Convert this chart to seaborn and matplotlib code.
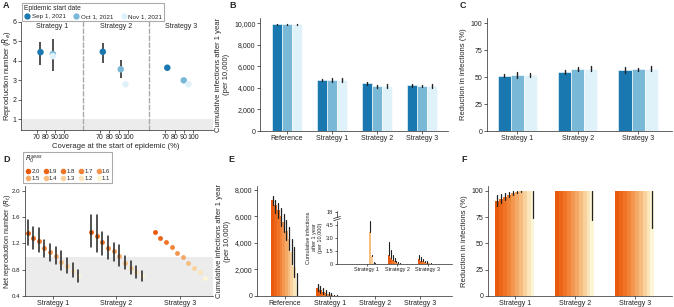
import numpy as np
import pandas as pd
import matplotlib
matplotlib.use('Agg')
import matplotlib.pyplot as plt
from matplotlib.lines import Line2D
import seaborn as sns

sns.set_style('ticks')
plt.rcParams['font.family'] = ['Liberation Sans', 'DejaVu Sans']
plt.rcParams['axes.linewidth'] = 0.5
plt.rcParams['xtick.major.width'] = 0.5
plt.rcParams['ytick.major.width'] = 0.5
plt.rcParams['xtick.major.size'] = 2
plt.rcParams['ytick.major.size'] = 2
plt.rcParams['xtick.major.pad'] = 1
plt.rcParams['ytick.major.pad'] = 1.2

# ---- data ----
strategies = ['Strategy 1', 'Strategy 2', 'Strategy 3']
dates = ['Sep 1, 2021', 'Oct 1, 2021', 'Nov 1, 2021']

# panel A: reproduction number by coverage at epidemic start
a_strategy = ['Strategy 1'] * 3 + ['Strategy 2'] * 3 + ['Strategy 3'] * 3
a_date = dates * 3
a_cov = [74, 88, 88, 73, 92, 97, 72, 90, 95]
a_re = [4.45, 4.35, 4.25, 4.47, 3.57, 2.80, 3.65, 3.00, 2.80]
a_lo = [3.80, 3.50, 4.25, 3.90, 3.10, 2.80, 3.65, 3.00, 2.80]
a_hi = [4.95, 5.15, 4.25, 4.90, 4.05, 2.80, 3.65, 3.00, 2.80]

# panel B: cumulative infections per 10,000
b_groups = ['Reference', 'Strategy 1', 'Strategy 2', 'Strategy 3']
b_val = [9900, 9900, 9900, 4750, 4720, 4760, 4420, 4150, 4170, 4230, 4170, 4200]
b_err = [80, 60, 60, 120, 200, 180, 150, 120, 170, 150, 80, 170]

# panel C: reduction in infections (%)
c_val = [51.5, 52.0, 52.2, 55.0, 57.8, 58.0, 56.5, 57.2, 58.0]
c_err = [1.5, 2.5, 2.0, 2.0, 2.0, 2.0, 3.0, 1.5, 2.2]

# panel D: net reproduction number by seasonal R0
r0_levels = ['2.0', '1.9', '1.8', '1.7', '1.6', '1.5', '1.4', '1.3', '1.2', '1.1']
d_val = {
    'Strategy 1': [1.36, 1.28, 1.23, 1.13, 1.07, 1.01, 0.92, 0.85, 0.78, 0.70],
    'Strategy 2': [1.38, 1.31, 1.22, 1.13, 1.08, 1.01, 0.91, 0.83, 0.76, 0.70],
    'Strategy 3': [1.37, 1.29, 1.22, 1.14, 1.06, 0.99, 0.91, 0.83, 0.76, 0.68],
}
d_lo = {
    'Strategy 1': [1.17, 1.12, 1.07, 1.00, 0.93, 0.88, 0.80, 0.75, 0.69, 0.62],
    'Strategy 2': [1.15, 1.07, 1.03, 0.97, 0.94, 0.86, 0.81, 0.74, 0.68, 0.63],
    'Strategy 3': [1.37, 1.29, 1.22, 1.14, 1.06, 0.99, 0.91, 0.83, 0.76, 0.68],
}
d_hi = {
    'Strategy 1': [1.55, 1.45, 1.43, 1.26, 1.19, 1.15, 1.08, 0.98, 0.91, 0.79],
    'Strategy 2': [1.63, 1.64, 1.38, 1.31, 1.21, 1.17, 1.01, 0.94, 0.86, 0.78],
    'Strategy 3': [1.37, 1.29, 1.22, 1.14, 1.06, 0.99, 0.91, 0.83, 0.76, 0.68],
}

# panel E: cumulative infections by seasonal R0
e_val = {
    'Reference': [7210, 6885, 6465, 6070, 5575, 4900, 4285, 3295, 2180, 1065],
    'Strategy 1': [620, 445, 320, 200, 120, 75, 30, 10, 3, 1],
    'Strategy 2': [1.0, 0.7, 0.5, 0.35, 0.2, 0.1, 0.05, 0.02, 0.01, 0.0],
    'Strategy 3': [0.55, 0.4, 0.3, 0.2, 0.12, 0.06, 0.03, 0.01, 0.0, 0.0],
}
e_lo = {
    'Reference': [6880, 6300, 5900, 5300, 4800, 4200, 3500, 2400, 1400, 0],
    'Strategy 1': [400, 250, 150, 80, 40, 15, 5, 1, 0, 0],
    'Strategy 2': [0, 0, 0, 0, 0, 0, 0, 0, 0, 0],
    'Strategy 3': [0, 0, 0, 0, 0, 0, 0, 0, 0, 0],
}
e_hi = {
    'Reference': [7550, 7250, 7000, 6650, 6200, 5700, 5200, 4300, 3700, 1700],
    'Strategy 1': [940, 750, 600, 450, 300, 200, 100, 40, 10, 3],
    'Strategy 2': [2.5, 1.6, 1.0, 0.7, 0.4, 0.2, 0.1, 0.05, 0.02, 0.01],
    'Strategy 3': [1.05, 0.75, 0.55, 0.4, 0.3, 0.15, 0.08, 0.03, 0.01, 0.0],
}
# inset of E (zoomed strategies)
ins_val = {
    'Strategy 1': [np.nan] * 6 + [3.7, 0.9, 0.15, 0.05],
    'Strategy 2': e_val['Strategy 2'],
    'Strategy 3': e_val['Strategy 3'],
}
ins_hi = {
    'Strategy 1': [np.nan] * 6 + [4.9, 1.0, 0.25, 0.1],
    'Strategy 2': e_hi['Strategy 2'],
    'Strategy 3': e_hi['Strategy 3'],
}

# panel F: reduction in infections by seasonal R0
f_val = {
    'Strategy 1': [90.5, 92.5, 94.5, 96.5, 98, 99, 99.7, 99.9, 100, 100],
    'Strategy 2': [100] * 10,
    'Strategy 3': [100] * 10,
}
f_lo = {
    'Strategy 1': [86, 88.5, 91, 94, 96, 98, 99.4, 99.8, 100, 74],
    'Strategy 2': [100] * 9 + [72],
    'Strategy 3': [100] * 9 + [65],
}
f_hi = {
    'Strategy 1': [96, 97, 98, 99, 99.8, 100, 100, 100, 100, 100],
    'Strategy 2': [100] * 10,
    'Strategy 3': [100] * 10,
}

blue_pal = ['#1a78b0', '#7ab8d8', '#dff2fa']
orange_pal = ['#e8590c', '#ec6518', '#ef7426', '#f18438', '#f3964f',
              '#f5a966', '#f7bd80', '#f9d19c', '#fbe5ba', '#fdf6d6']
band = '#ececec'
errc = '#222222'


def triple(df, val, lo, hi):
    # three rows per bar so median = value and full range = interval
    return pd.concat([df.assign(v=df[lo]), df.assign(v=df[val]), df.assign(v=df[hi])],
                     ignore_index=True)


def long_r0(val, lo, hi):
    rows = []
    for g in val:
        for i, r in enumerate(r0_levels):
            rows.append({'group': g, 'r0': r, 'val': val[g][i],
                         'lo': lo[g][i], 'hi': hi[g][i]})
    return triple(pd.DataFrame(rows), 'val', 'lo', 'hi')


W, H = 674, 307
fig = plt.figure(figsize=(W / 100, H / 100), dpi=100)


def box(l, t, r, b):
    return [l / W, 1 - b / H, (r - l) / W, (b - t) / H]


def style(ax, fs=5):
    sns.despine(ax=ax)
    ax.tick_params(labelsize=fs, colors='#222222')
    ax.set_xlabel('')
    ax.set_ylabel('')


lbl = 5.5

# ---- A ----
a_df = pd.DataFrame({'strategy': a_strategy, 'date': a_date, 'cov': a_cov,
                     're': a_re, 'lo': a_lo, 'hi': a_hi})
edges = [21, 83, 149, 213]
for i, s in enumerate(strategies):
    ax = fig.add_axes(box(edges[i], 22, edges[i + 1], 130))
    sub = a_df[a_df.strategy == s]
    ax.axhspan(0, 1, color=band, lw=0, zorder=0)
    ax.vlines(sub['cov'], sub['lo'], sub['hi'], color='#333333', lw=1.2, zorder=2)
    sns.scatterplot(data=sub, x='cov', y='re', hue='date', hue_order=dates,
                    palette=blue_pal, s=22, edgecolor='none', legend=False,
                    ax=ax, zorder=3)
    ax.set_xlim(52, 122)
    ax.set_ylim(0.45, 6)
    ax.set_xticks([70, 80, 90, 100])
    style(ax)
    ax.tick_params(axis='x', labelsize=5, pad=1)
    if i == 0:
        ax.set_yticks([1, 2, 3, 4, 5, 6])
        ax.set_ylabel('Reproduction number ($R_e$)', fontsize=lbl)
        ax.yaxis.set_label_coords(-8 / 62, 0.5)
    else:
        ax.tick_params(left=False, labelleft=False)
        ax.spines['left'].set_linestyle((0, (3, 2)))
        ax.spines['left'].set_color('#aaaaaa')
        ax.spines['left'].set_linewidth(1.0)
    if i == 1:
        ax.set_xlabel('Coverage at the start of epidemic (%)', fontsize=lbl, labelpad=1)
    ax.text(0.5, 0.96, s, transform=ax.transAxes, ha='center', va='center', fontsize=5)

a_handles = [Line2D([], [], marker='o', ls='none', color=c, markersize=3.5) for c in blue_pal]
lgA = fig.legend(a_handles, dates, title='Epidemic start date', ncol=3,
                 loc='upper left', bbox_to_anchor=(19 / W, 1.0), fontsize=4.5,
                 title_fontsize=4.8, alignment='left', fancybox=False,
                 edgecolor='#aaaaaa', framealpha=1, handletextpad=0.2,
                 columnspacing=1.2, borderpad=0.35, handlelength=1.0,
                 labelspacing=0.2)
lgA.get_frame().set_linewidth(0.8)

# ---- B ----
b_df = pd.DataFrame({'group': np.repeat(b_groups, 3), 'date': dates * 4,
                     'val': b_val, 'err': b_err})
b_df['lo'] = b_df['val'] - b_df['err']
b_df['hi'] = b_df['val'] + b_df['err']
ax = fig.add_axes(box(260, 18, 448, 131))
sns.barplot(data=triple(b_df, 'val', 'lo', 'hi'), x='group', y='v', hue='date',
            order=b_groups, hue_order=dates, palette=blue_pal, estimator='median',
            errorbar=('pi', 100), err_kws={'color': errc, 'linewidth': 1.0},
            width=0.67, edgecolor='white', linewidth=0.4, saturation=1,
            legend=False, ax=ax)
ax.set_xlim(-0.6, 3.58)
ax.set_ylim(0, 10500)
ax.set_yticks([0, 2000, 4000, 6000, 8000, 10000])
ax.set_yticklabels([f'{t:,}' for t in [0, 2000, 4000, 6000, 8000, 10000]])
style(ax)
ax.set_ylabel('Cumulative infections after 1 year\n(per 10,000)', fontsize=lbl, labelpad=3)

# ---- C ----
c_df = pd.DataFrame({'group': np.repeat(strategies, 3), 'date': dates * 3,
                     'val': c_val, 'err': c_err})
c_df['lo'] = c_df['val'] - c_df['err']
c_df['hi'] = c_df['val'] + c_df['err']
ax = fig.add_axes(box(487, 18, 672, 131))
sns.barplot(data=triple(c_df, 'val', 'lo', 'hi'), x='group', y='v', hue='date',
            order=strategies, hue_order=dates, palette=blue_pal, estimator='median',
            errorbar=('pi', 100), err_kws={'color': errc, 'linewidth': 1.0},
            width=0.65, edgecolor='white', linewidth=0.4, saturation=1,
            legend=False, ax=ax)
ax.set_xlim(-0.5, 2.56)
ax.set_ylim(0, 105)
ax.set_yticks([0, 25, 50, 75, 100])
style(ax)
ax.set_ylabel('Reduction in infections (%)', fontsize=lbl, labelpad=3)

bottom = 296

# ---- D ----
ax = fig.add_axes(box(25, 186, 213, bottom))
ax.axhspan(0.4, 1.0, color=band, lw=0, zorder=0)
sns.pointplot(data=long_r0(d_val, d_lo, d_hi), x='group', y='v', hue='r0',
              order=strategies, hue_order=r0_levels, palette=orange_pal,
              estimator='median', errorbar=('pi', 100), dodge=0.8,
              linestyle='none', markers='o', markersize=3.5, markeredgewidth=0,
              err_kws={'color': errc, 'linewidth': 1.1}, legend=False, ax=ax)
ax.set_xlim(-0.44, 2.52)
ax.set_ylim(0.4, 2.075)
ax.set_yticks([0.4, 0.8, 1.2, 1.6, 2.0])
ax.set_yticklabels(['0.4', '0.8', '1.2', '1.6', '2.0'])
style(ax, fs=4.4)
ax.tick_params(axis='x', labelsize=5)
ax.set_ylabel('Net reproduction number ($R_t$)', fontsize=5.2)
ax.yaxis.set_label_coords(-12 / 188, 0.5)

# legend rows: 2.0..1.6 on top, 1.5..1.1 below (matplotlib fills by column)
order_idx = [j for k in range(5) for j in (k, k + 5)]
d_handles = [Line2D([], [], marker='o', ls='none', color=orange_pal[j], markersize=3)
             for j in order_idx]
lgD = fig.legend(d_handles, [r0_levels[j] for j in order_idx], title='$R_0^{seas}$',
                 ncol=5, loc='upper left', bbox_to_anchor=(20 / W, 1 - 149 / H),
                 fontsize=4.3, title_fontsize=5, alignment='left', fancybox=False,
                 edgecolor='#aaaaaa', framealpha=1, handletextpad=0.05,
                 columnspacing=0.5, borderpad=0.35, handlelength=1.0,
                 labelspacing=0.4)
lgD.get_frame().set_linewidth(0.8)

# ---- E ----
ax = fig.add_axes(box(257, 186, 452, bottom))
sns.barplot(data=long_r0(e_val, e_lo, e_hi), x='group', y='v', hue='r0',
            order=b_groups, hue_order=r0_levels, palette=orange_pal,
            estimator='median', errorbar=('pi', 100),
            err_kws={'color': errc, 'linewidth': 0.9}, width=0.6, linewidth=0,
            saturation=1, legend=False, ax=ax)
ax.set_xlim(-0.62, 3.71)
ax.set_ylim(0, 8300)
ax.set_yticks([0, 2000, 4000, 6000, 8000])
ax.set_yticklabels([f'{t:,}' for t in [0, 2000, 4000, 6000, 8000]])
style(ax)
ax.set_ylabel('Cumulative infections after 1 year\n(per 10,000)', fontsize=lbl, labelpad=3)

# inset
ins = fig.add_axes(box(337, 211, 452, 264))
ins_lo = {k: v for k, v in ins_val.items()}
sns.barplot(data=long_r0(ins_val, ins_lo, ins_hi), x='group', y='v', hue='r0',
            order=strategies, hue_order=r0_levels, palette=orange_pal,
            estimator='median', errorbar=('pi', 100),
            err_kws={'color': errc, 'linewidth': 0.8}, width=0.62, linewidth=0,
            saturation=1, legend=False, ax=ins)
ins.set_xlim(-0.98, 2.79)
ins.set_ylim(0, 6.1)
ins.set_yticks([0, 1.5, 3.0, 4.5, 6.0])
ins.set_yticklabels(['0', '1.5', '3.0', '4.5', '18'])
style(ins, fs=4)
ins.tick_params(length=1.5)
ins.set_ylabel('Cumulative infections\nafter 1 year\n(per 10,000)', fontsize=4, labelpad=2)
ins.spines['left'].set_bounds(0, 5.0)
for yb in (5.1, 5.35):
    ins.plot([-0.03, 0.03], [yb / 6.1 - 0.02, yb / 6.1 + 0.02], transform=ins.transAxes,
             color='#222222', lw=0.5, clip_on=False)
ins.plot([0, 0], [5.45 / 6.1, 1.0], transform=ins.transAxes, color='#222222',
         lw=0.5, clip_on=False)

# ---- F ----
ax = fig.add_axes(box(488, 186, 672, bottom))
sns.barplot(data=long_r0(f_val, f_lo, f_hi), x='group', y='v', hue='r0',
            order=strategies, hue_order=r0_levels, palette=orange_pal,
            estimator='median', errorbar=('pi', 100),
            err_kws={'color': errc, 'linewidth': 0.9}, width=0.65, linewidth=0,
            saturation=1, legend=False, ax=ax)
ax.set_xlim(-0.45, 2.62)
ax.set_ylim(0, 104.7)
ax.set_yticks([0, 25, 50, 75, 100])
style(ax)
ax.set_ylabel('Reduction in infections (%)', fontsize=lbl, labelpad=3)

# panel letters
for t, x, y in [('A', 3, 6), ('B', 229, 6), ('C', 460, 6),
                ('D', 3, 160), ('E', 228, 160), ('F', 461, 160)]:
    fig.text(x / W, 1 - y / H, t, fontsize=6.5, fontweight='bold', va='center')

fig.savefig('out.png', dpi=100)
